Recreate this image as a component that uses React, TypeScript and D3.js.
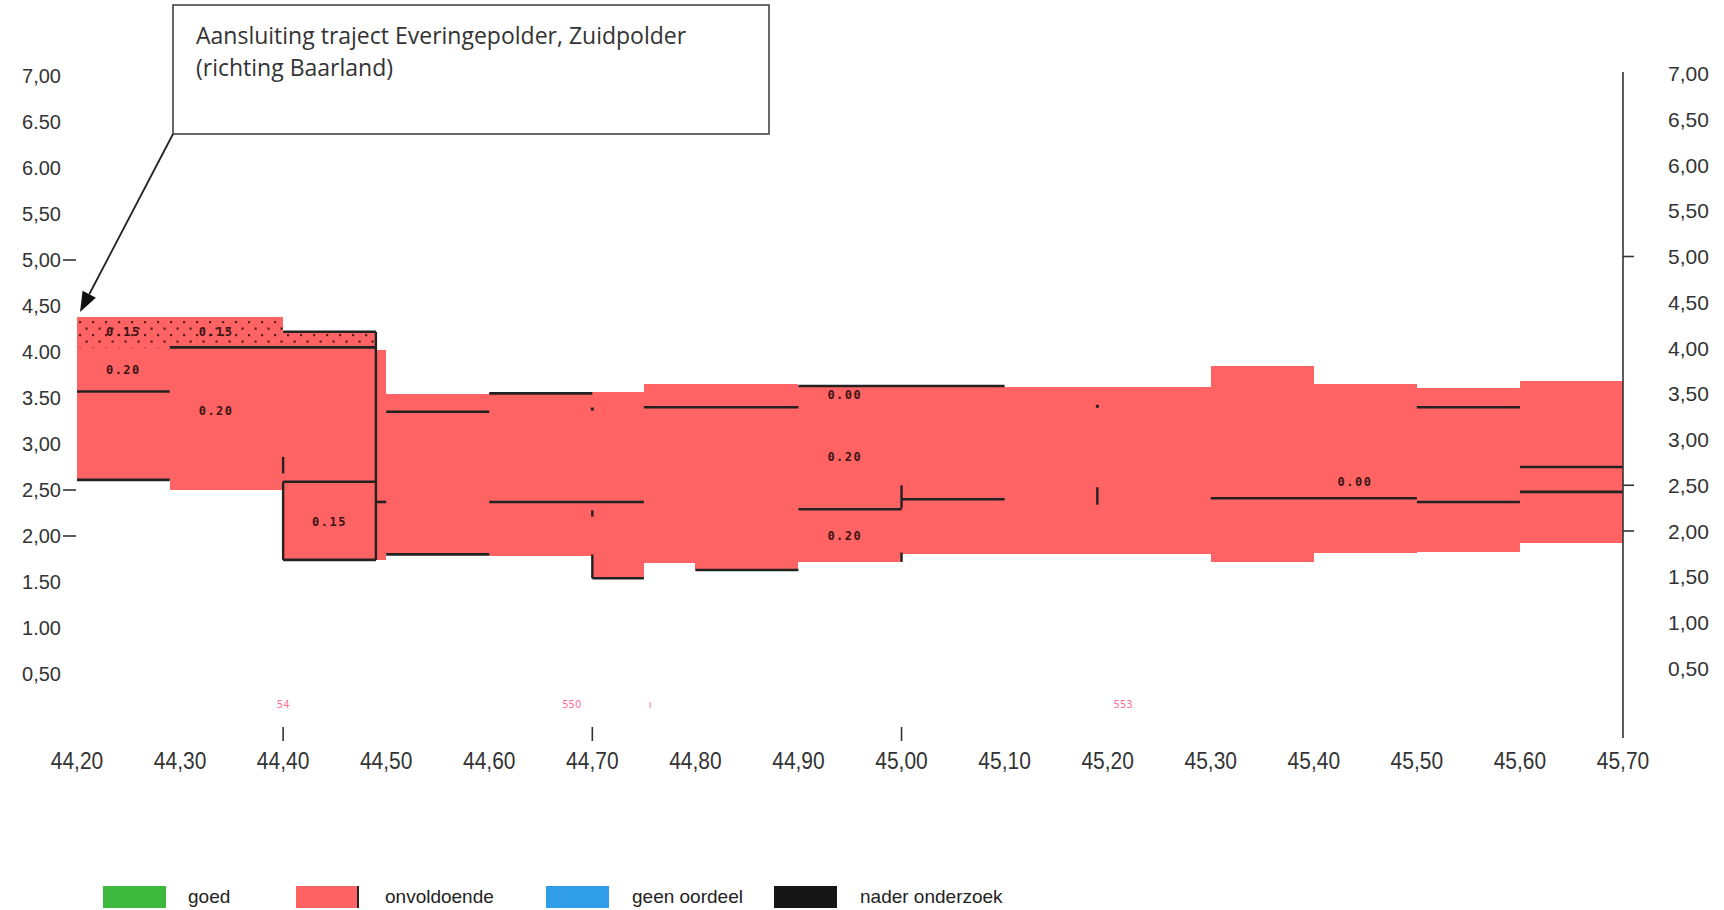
import React from "react";
import * as d3 from "d3";

const W = 1724;
const H = 910;

// ---- data ----
// red profile segments: start km, end km, top (m), bottom (m)
const segStart = [44.2, 44.29, 44.4, 44.49, 44.5, 44.6, 44.7, 44.75, 44.8, 44.9, 45.0, 45.3, 45.4, 45.5, 45.6];
const segEnd = [44.29, 44.4, 44.49, 44.5, 44.6, 44.7, 44.75, 44.8, 44.9, 45.0, 45.3, 45.4, 45.5, 45.6, 45.7];
const segTop = [4.38, 4.38, 4.22, 4.02, 3.54, 3.55, 3.57, 3.65, 3.65, 3.63, 3.62, 3.85, 3.65, 3.61, 3.68];
const segBottom = [2.61, 2.5, 1.74, 1.74, 1.8, 1.78, 1.54, 1.71, 1.63, 1.72, 1.8, 1.72, 1.82, 1.83, 1.92];

// dotted (stippled) layer: start km, end km, top, bottom
const dotStart = [44.2, 44.4];
const dotEnd = [44.4, 44.49];
const dotTop = [4.38, 4.22];
const dotBottom = [4.05, 4.05];

// horizontal layer boundaries: km from, km to, level
const hFrom = [44.2, 44.2, 44.29, 44.4, 44.4, 44.4, 44.49, 44.5, 44.5, 44.6, 44.6, 44.7, 44.75, 44.8, 44.9, 44.9, 45.0, 45.3, 45.5, 45.5, 45.6, 45.6];
const hTo = [44.29, 44.29, 44.49, 44.49, 44.49, 44.49, 44.5, 44.6, 44.6, 44.7, 44.75, 44.75, 44.9, 44.9, 45.1, 45.0, 45.1, 45.5, 45.6, 45.6, 45.7, 45.7];
const hLevel = [3.57, 2.61, 4.05, 4.22, 2.59, 1.74, 2.37, 3.35, 1.8, 3.55, 2.37, 1.54, 3.4, 1.63, 3.63, 2.29, 2.4, 2.41, 3.4, 2.37, 2.75, 2.48];

// vertical boundaries: km, from level, to level
const vKm = [44.4, 44.4, 44.49, 44.7, 44.7, 45.0, 45.0, 45.19];
const vFrom = [2.86, 2.59, 4.22, 1.8, 2.28, 2.55, 1.82, 2.53];
const vTo = [2.68, 1.74, 1.74, 1.54, 2.21, 2.3, 1.72, 2.34];

// small dots
const dotKm = [44.7, 45.19];
const dotLevel = [3.38, 3.41];

// layer value labels
const labKm = [44.245, 44.335, 44.245, 44.335, 44.445, 44.945, 44.945, 44.945, 45.44];
const labLevel = [4.21, 4.21, 3.8, 3.35, 2.15, 3.53, 2.85, 1.99, 2.58];
const labText = ["0.15", "0.15", "0.20", "0.20", "0.15", "0.00", "0.20", "0.20", "0.00"];

// faint pink marks under the profile
const pinkKm = [44.4, 44.68, 44.756, 45.215];
const pinkText = ["54", "550", "ı", "553"];

// axes
const xTickValues = [44.2, 44.3, 44.4, 44.5, 44.6, 44.7, 44.8, 44.9, 45.0, 45.1, 45.2, 45.3, 45.4, 45.5, 45.6, 45.7];
const xTickLabels = ["44,20", "44,30", "44,40", "44,50", "44,60", "44,70", "44,80", "44,90", "45,00", "45,10", "45,20", "45,30", "45,40", "45,50", "45,60", "45,70"];
const xTickMarks = [44.4, 44.7, 45.0];
const yTickValues = [0.5, 1, 1.5, 2, 2.5, 3, 3.5, 4, 4.5, 5, 5.5, 6, 6.5, 7];
const leftTickLabels = ["0,50", "1.00", "1.50", "2,00", "2,50", "3,00", "3.50", "4.00", "4,50", "5,00", "5,50", "6.00", "6.50", "7,00"];
const rightTickLabels = ["0,50", "1,00", "1,50", "2,00", "2,50", "3,00", "3,50", "4,00", "4,50", "5,00", "5,50", "6,00", "6,50", "7,00"];
const yTickMarks = [2, 2.5, 5];

const legendLabels = ["goed", "onvoldoende", "geen oordeel", "nader onderzoek"];
const legendColors = ["#3dba3d", "#ff6262", "#2f9de8", "#161616"];

const titleLines = ["Aansluiting traject Everingepolder, Zuidpolder", "(richting Baarland)"];

const RED = "#ff6363";
const INK = "#222";

export default function App() {
  const x = d3.scaleLinear().domain([44.2, 45.7]).range([77, 1623]);
  const yL = d3.scaleLinear().domain([0, 7]).range([720, 76]);
  const yR = d3.scaleLinear().domain([0, 7]).range([714, 73.5]);

  const pts = segStart.map((s, i) => ({ k: s, t: segTop[i], b: segBottom[i] }));
  const last = segStart.length - 1;
  pts.push({ k: segEnd[last], t: segTop[last], b: segBottom[last] });
  const area = d3
    .area<{ k: number; t: number; b: number }>()
    .x((d) => x(d.k))
    .y0((d) => yL(d.b))
    .y1((d) => yL(d.t))
    .curve(d3.curveStepAfter);

  // arrow geometry
  const ax0 = 173, ay0 = 134, tipX = 80, tipY = 312;
  const dx = tipX - ax0, dy = tipY - ay0;
  const len = Math.hypot(dx, dy);
  const ux = dx / len, uy = dy / len;
  const bx = tipX - 20 * ux, by = tipY - 20 * uy;
  const px = -uy, py = ux;
  const head = `M${tipX},${tipY}L${bx + 7.5 * px},${by + 7.5 * py}L${bx - 7.5 * px},${by - 7.5 * py}Z`;

  const legendBoxX = [103, 296, 546, 774];
  const legendTextX = [188, 385, 632, 860];

  return (
    <svg
      width={W}
      height={H}
      viewBox={`0 0 ${W} ${H}`}
      style={{ position: "absolute", left: 0, top: 0, background: "#fff", display: "block" }}
    >
      <defs>
        <pattern id="stip" width="13" height="13" patternUnits="userSpaceOnUse" x="77" y="318">
          <rect x="2" y="3" width="2.2" height="2.2" fill="#5a1e1e" />
          <rect x="8.5" y="9.5" width="2.2" height="2.2" fill="#5a1e1e" />
        </pattern>
      </defs>

      {/* red profile */}
      <path d={area(pts) || ""} fill={RED} shapeRendering="crispEdges" />

      {/* stippled layer */}
      {dotStart.map((s, i) => (
        <rect
          key={"dt" + i}
          x={x(s)}
          y={yL(dotTop[i])}
          width={x(dotEnd[i]) - x(s)}
          height={yL(dotBottom[i]) - yL(dotTop[i])}
          fill="url(#stip)"
        />
      ))}

      {/* horizontal boundaries */}
      {hFrom.map((f, i) => (
        <line
          key={"h" + i}
          x1={x(f)}
          x2={x(hTo[i])}
          y1={yL(hLevel[i])}
          y2={yL(hLevel[i])}
          stroke={INK}
          strokeWidth={2.6}
        />
      ))}
      {/* vertical boundaries */}
      {vKm.map((k, i) => (
        <line
          key={"v" + i}
          x1={x(k)}
          x2={x(k)}
          y1={yL(vFrom[i])}
          y2={yL(vTo[i])}
          stroke={INK}
          strokeWidth={2.4}
        />
      ))}
      {dotKm.map((k, i) => (
        <rect key={"dd" + i} x={x(k) - 1.5} y={yL(dotLevel[i]) - 1.5} width={3} height={3} fill={INK} />
      ))}

      {/* layer labels */}
      {labKm.map((k, i) => (
        <text
          key={"l" + i}
          x={x(k)}
          y={yL(labLevel[i])}
          textAnchor="middle"
          dominantBaseline="middle"
          fontFamily="DejaVu Sans Mono"
          fontWeight="bold"
          fontSize={12}
          letterSpacing={1.5}
          fill="#3a1414"
        >
          {labText[i]}
        </text>
      ))}

      {/* pink marks */}
      {pinkKm.map((k, i) => (
        <text
          key={"p" + i}
          x={x(k)}
          y={708}
          textAnchor="middle"
          fontFamily="DejaVu Sans"
          fontSize={10}
          fill="#ff6f96"
        >
          {pinkText[i]}
        </text>
      ))}

      {/* left axis labels */}
      {yTickValues.map((v, i) => (
        <text
          key={"yl" + i}
          x={61}
          y={yL(v)}
          textAnchor="end"
          dominantBaseline="central"
          fontFamily="Liberation Sans"
          fontSize={20}
          fill="#333"
        >
          {leftTickLabels[i]}
        </text>
      ))}
      {yTickMarks.map((v, i) => (
        <line key={"ylt" + i} x1={63} x2={76} y1={yL(v)} y2={yL(v)} stroke="#333" strokeWidth={1.6} />
      ))}

      {/* right axis */}
      <line x1={1623} x2={1623} y1={72} y2={738} stroke="#333" strokeWidth={1.6} />
      {yTickMarks.map((v, i) => (
        <line key={"yrt" + i} x1={1623} x2={1634} y1={yR(v)} y2={yR(v)} stroke="#333" strokeWidth={1.6} />
      ))}
      {yTickValues.map((v, i) => (
        <text
          key={"yr" + i}
          x={1668}
          y={yR(v)}
          dominantBaseline="central"
          fontFamily="Liberation Sans"
          fontSize={21}
          fill="#333"
        >
          {rightTickLabels[i]}
        </text>
      ))}

      {/* x axis */}
      {xTickMarks.map((k, i) => (
        <line key={"xt" + i} x1={x(k)} x2={x(k)} y1={727} y2={741} stroke="#333" strokeWidth={1.6} />
      ))}
      {xTickValues.map((k, i) => (
        <text
          key={"xl" + i}
          transform={`translate(${x(k)},769) scale(1,1.15)`}
          textAnchor="middle"
          fontFamily="Liberation Sans"
          fontSize={21}
          fill="#333"
        >
          {xTickLabels[i]}
        </text>
      ))}

      {/* annotation */}
      <rect x={173} y={5} width={596} height={129} fill="#fff" stroke="#444" strokeWidth={1.6} />
      {titleLines.map((t, i) => (
        <text key={"t" + i} x={196} y={44 + i * 32} fontFamily="Open Sans" fontSize={23} fill="#333">
          {t}
        </text>
      ))}
      <line x1={ax0} y1={ay0} x2={bx} y2={by} stroke="#222" strokeWidth={1.8} />
      <path d={head} fill="#111" />

      {/* legend */}
      {legendLabels.map((l, i) => (
        <g key={"lg" + i}>
          <rect x={legendBoxX[i]} y={886} width={63} height={22} fill={legendColors[i]} />
          {i === 1 && <line x1={legendBoxX[i] + 62} x2={legendBoxX[i] + 62} y1={886} y2={908} stroke="#222" strokeWidth={2} />}
          <text x={legendTextX[i]} y={903} fontFamily="Liberation Sans" fontSize={19} fill="#222">
            {l}
          </text>
        </g>
      ))}
    </svg>
  );
}
